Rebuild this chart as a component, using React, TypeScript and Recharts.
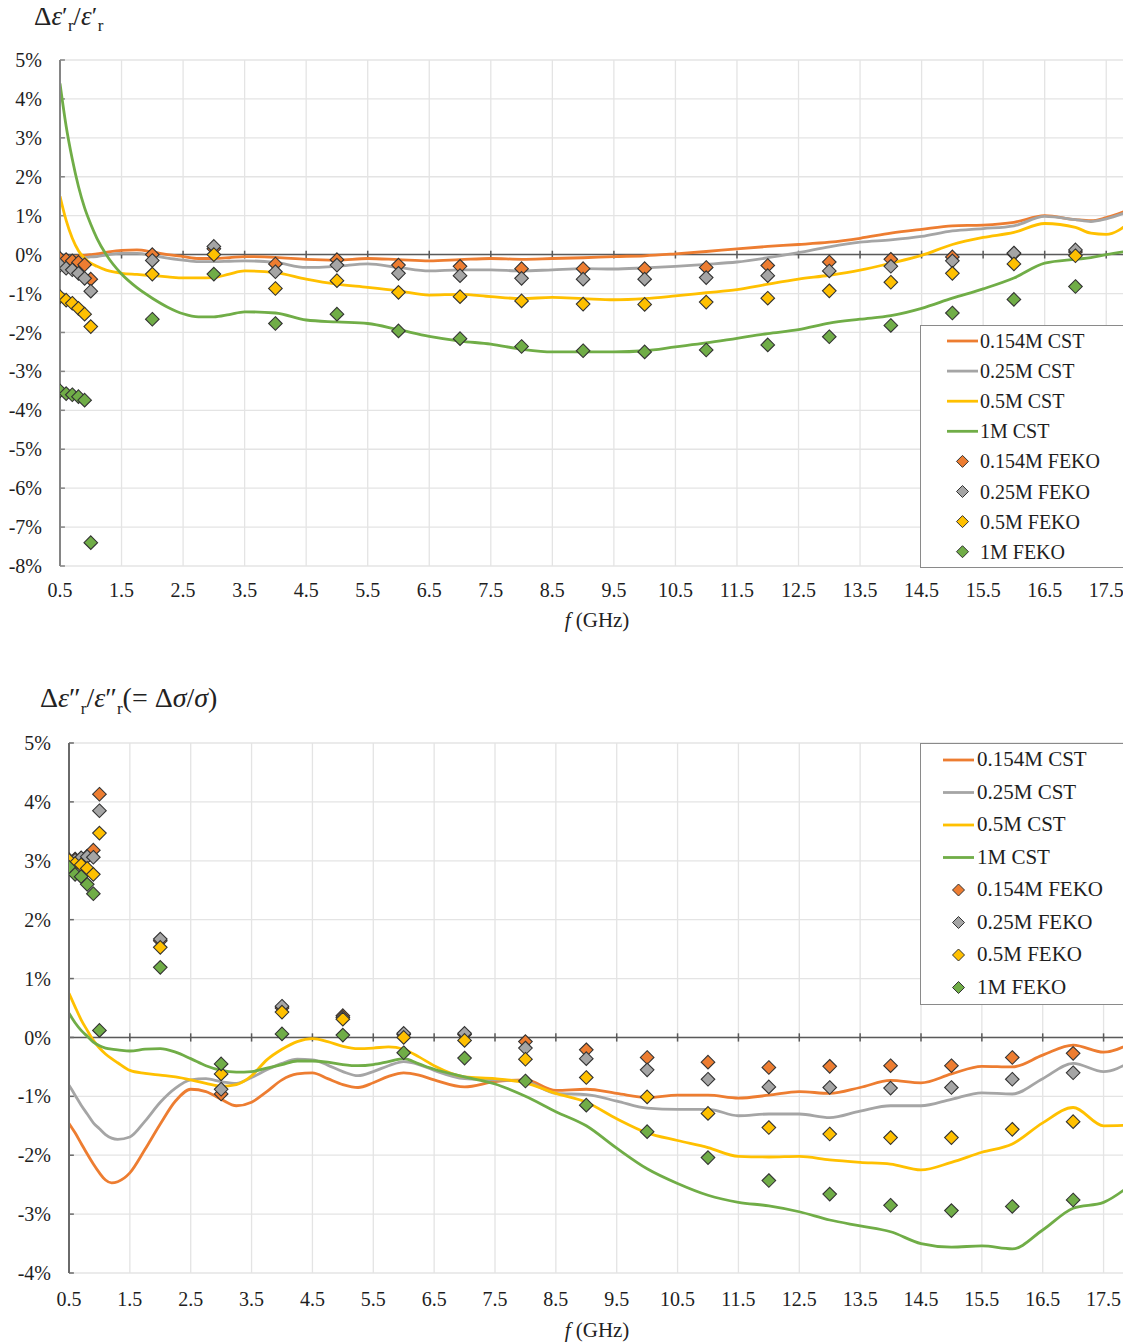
import React from 'react';
import { ComposedChart, Line, Scatter, XAxis, YAxis, CartesianGrid, ReferenceLine } from 'recharts';

const FONT = '"Liberation Serif", "Times New Roman", serif';

const seriesNames = ['0.154M', '0.25M', '0.5M', '1M'];
const seriesColors = ['#ED7D31', '#A5A5A5', '#FFC000', '#70AD47'];

const xTicks = [0.5, 1.5, 2.5, 3.5, 4.5, 5.5, 6.5, 7.5, 8.5, 9.5, 10.5, 11.5, 12.5, 13.5, 14.5, 15.5, 16.5, 17.5];
const topYTicks = [-8, -7, -6, -5, -4, -3, -2, -1, 0, 1, 2, 3, 4, 5];
const bottomYTicks = [-4, -3, -2, -1, 0, 1, 2, 3, 4, 5];

// ---------- Top chart: Δε'r/ε'r ----------
const topCstX = [0.5, 0.6, 0.7, 0.8, 0.9, 1.0, 1.1, 1.25, 1.5, 1.75, 2.0, 2.25, 2.5, 2.75, 3.0, 3.25, 3.5, 4.0, 4.5, 5.0, 5.5, 6.0, 6.5, 7.0, 7.5, 8.0, 8.5, 9.0, 9.5, 10.0, 10.5, 11.0, 11.5, 12.0, 12.5, 13.0, 13.5, 14.0, 14.5, 15.0, 15.5, 16.0, 16.5, 17.0, 17.25, 17.5, 17.9];
const topCst0154 = [-0.08, -0.07, -0.06, -0.04, -0.02, 0.0, 0.02, 0.06, 0.11, 0.12, 0.07, 0.0, -0.05, -0.1, -0.1, -0.08, -0.05, -0.07, -0.12, -0.14, -0.1, -0.13, -0.16, -0.13, -0.1, -0.12, -0.1, -0.08, -0.05, -0.03, 0.02, 0.08, 0.15, 0.21, 0.26, 0.32, 0.42, 0.55, 0.65, 0.74, 0.76, 0.83, 1.0, 0.9, 0.87, 0.95, 1.17];
const topCst025 = [-0.14, -0.13, -0.12, -0.1, -0.08, -0.06, -0.05, -0.01, 0.03, 0.03, -0.02, -0.09, -0.14, -0.18, -0.18, -0.17, -0.16, -0.2, -0.33, -0.3, -0.24, -0.33, -0.42, -0.39, -0.39, -0.42, -0.39, -0.36, -0.37, -0.34, -0.3, -0.25, -0.19, -0.08, 0.05, 0.2, 0.32, 0.38, 0.47, 0.61, 0.67, 0.74, 0.98, 0.9, 0.85, 0.92, 1.13];
const topCst05 = [1.5, 0.88, 0.42, 0.1, -0.09, -0.22, -0.3, -0.4, -0.48, -0.51, -0.54, -0.57, -0.6, -0.6, -0.59, -0.5, -0.42, -0.46, -0.63, -0.76, -0.84, -0.93, -1.04, -1.02, -1.08, -1.13, -1.1, -1.13, -1.16, -1.13, -1.06, -0.98, -0.9, -0.76, -0.63, -0.53, -0.4, -0.22, -0.02, 0.26, 0.44, 0.57, 0.8, 0.7, 0.55, 0.52, 0.85];
const topCst1 = [4.4, 3.3, 2.45, 1.75, 1.2, 0.78, 0.42, 0.0, -0.5, -0.85, -1.12, -1.35, -1.52, -1.6, -1.6, -1.54, -1.47, -1.5, -1.68, -1.73, -1.77, -1.93, -2.1, -2.22, -2.3, -2.43, -2.5, -2.5, -2.5, -2.47, -2.37, -2.27, -2.15, -2.03, -1.93, -1.76, -1.66, -1.57, -1.38, -1.12, -0.88, -0.6, -0.22, -0.12, -0.08, 0.0, 0.1];

const fekoX = [0.5, 0.6, 0.7, 0.8, 0.9, 1.0, 2, 3, 4, 5, 6, 7, 8, 9, 10, 11, 12, 13, 14, 15, 16, 17, 18];
const topFeko0154 = [-0.1, -0.13, -0.16, -0.2, -0.26, -0.63, 0.0, 0.15, -0.24, -0.13, -0.27, -0.3, -0.36, -0.36, -0.36, -0.33, -0.28, -0.19, -0.12, -0.06, 0.02, 0.07, null];
const topFeko025 = [-0.27, -0.35, -0.39, -0.48, -0.61, -0.94, -0.15, 0.21, -0.44, -0.27, -0.48, -0.54, -0.61, -0.63, -0.63, -0.59, -0.54, -0.42, -0.3, -0.16, 0.04, 0.12, -0.47];
const topFeko05 = [-1.08, -1.17, -1.25, -1.38, -1.53, -1.85, -0.5, 0.0, -0.87, -0.67, -0.97, -1.08, -1.19, -1.27, -1.28, -1.22, -1.12, -0.93, -0.71, -0.48, -0.24, -0.03, null];
const topFeko1 = [-3.5, -3.57, -3.6, -3.65, -3.74, -7.4, -1.66, -0.5, -1.77, -1.53, -1.96, -2.16, -2.36, -2.47, -2.5, -2.45, -2.32, -2.11, -1.82, -1.5, -1.15, -0.82, null];

// ---------- Bottom chart: Δε''r/ε''r ----------
const botCstX = [0.5, 0.6, 0.7, 0.8, 0.9, 1.0, 1.1, 1.2, 1.3, 1.5, 1.75, 2.0, 2.25, 2.5, 2.75, 3.0, 3.25, 3.5, 3.75, 4.0, 4.25, 4.5, 4.75, 5.0, 5.25, 5.5, 5.75, 6.0, 6.25, 6.5, 7.0, 7.5, 8.0, 8.5, 9.0, 9.5, 10.0, 10.5, 11.0, 11.5, 12.0, 12.5, 13.0, 13.5, 14.0, 14.5, 15.0, 15.5, 16.0, 16.5, 17.0, 17.5, 17.95];
const botCst0154 = [-1.46, -1.62, -1.8, -1.98, -2.15, -2.3, -2.42, -2.47, -2.45, -2.3, -1.9, -1.47, -1.08, -0.88, -0.92, -1.05, -1.16, -1.1, -0.92, -0.72, -0.62, -0.6, -0.7, -0.8, -0.85, -0.77, -0.66, -0.6, -0.64, -0.72, -0.84, -0.75, -0.72, -0.9, -0.88, -0.95, -1.02, -0.98, -0.98, -1.03, -0.98, -0.92, -0.95, -0.85, -0.73, -0.77, -0.62, -0.49, -0.5, -0.3, -0.13, -0.25, -0.1];
const botCst025 = [-0.81, -0.98, -1.15, -1.3, -1.45, -1.55, -1.65, -1.71, -1.73, -1.69, -1.42, -1.1, -0.86, -0.72, -0.7, -0.75, -0.78, -0.68, -0.55, -0.44, -0.37, -0.38, -0.47, -0.58, -0.65, -0.58, -0.48, -0.41, -0.46, -0.56, -0.7, -0.72, -0.75, -0.95, -0.97, -1.08, -1.2, -1.22, -1.22, -1.33, -1.3, -1.3, -1.36, -1.25, -1.16, -1.16, -1.05, -0.94, -0.96, -0.7, -0.44, -0.58, -0.41];
const botCst05 = [0.75, 0.52, 0.3, 0.12, -0.05, -0.18, -0.28, -0.36, -0.43, -0.56, -0.61, -0.64, -0.67, -0.72, -0.78, -0.83, -0.8, -0.65, -0.38, -0.2, -0.07, -0.02, -0.07, -0.15, -0.19, -0.18, -0.16, -0.2, -0.33, -0.48, -0.67, -0.7, -0.77, -0.95, -1.1, -1.38, -1.62, -1.75, -1.87, -2.02, -2.03, -2.02, -2.08, -2.12, -2.15, -2.25, -2.12, -1.95, -1.81, -1.45, -1.19, -1.5, -1.49];
const botCst1 = [0.41, 0.25, 0.12, 0.02, -0.08, -0.14, -0.18, -0.2, -0.21, -0.23, -0.2, -0.19, -0.25, -0.36, -0.48, -0.56, -0.59, -0.58, -0.52, -0.46, -0.4, -0.4, -0.42, -0.46, -0.48, -0.46, -0.41, -0.36, -0.45, -0.54, -0.67, -0.79, -1.0, -1.26, -1.5, -1.88, -2.23, -2.48, -2.68, -2.8, -2.86, -2.96, -3.1, -3.2, -3.3, -3.5, -3.56, -3.54, -3.59, -3.27, -2.9, -2.8, -2.5];

const botFeko0154 = [3.02, 3.03, 3.04, 3.08, 3.18, 4.13, 1.64, -0.96, 0.5, 0.37, 0.05, 0.05, -0.07, -0.21, -0.34, -0.42, -0.51, -0.49, -0.48, -0.48, -0.34, -0.27, -0.13];
const botFeko025 = [3.0, 3.01, 3.05, 3.07, 3.06, 3.85, 1.67, -0.88, 0.53, 0.34, 0.07, 0.07, -0.18, -0.36, -0.55, -0.71, -0.84, -0.85, -0.86, -0.85, -0.71, -0.6, -0.43];
const botFeko05 = [3.01, 2.95, 2.93, 2.87, 2.77, 3.47, 1.53, -0.62, 0.43, 0.31, 0.0, -0.05, -0.37, -0.68, -1.01, -1.29, -1.53, -1.64, -1.7, -1.7, -1.56, -1.43, -1.19];
const botFeko1 = [2.89, 2.77, 2.73, 2.6, 2.44, 0.12, 1.19, -0.45, 0.06, 0.04, -0.26, -0.35, -0.74, -1.15, -1.6, -2.04, -2.43, -2.66, -2.85, -2.94, -2.87, -2.76, -2.52];

function pairs(xs: number[], ys: (number | null)[]) {
  return xs.map((x, i) => ({ x, y: ys[i] })).filter((d) => d.y !== null && d.y !== undefined);
}

const diamond = (color: string, r: number) => (p: any) => {
  const { cx, cy } = p;
  if (cx == null || cy == null) return <g />;
  return (
    <path
      d={`M${cx},${cy - r}L${cx + r},${cy}L${cx},${cy + r}L${cx - r},${cy}Z`}
      fill={color}
      stroke="#333333"
      strokeWidth={1.1}
    />
  );
};

type PanelProps = {
  width: number;
  height: number;
  yAxisWidth: number;
  yDomain: [number, number];
  yTicks: number[];
  cst: { x: number; y: number | null }[][];
  feko: { x: number; y: number | null }[][];
  tickHalf: number;
  axisTickDx: number;
  xTickMargin: number;
  axisColor: string;
};

function Panel(props: PanelProps) {
  const { width, height, yAxisWidth, yDomain, yTicks, cst, feko, tickHalf, axisTickDx, xTickMargin, axisColor } = props;
  const tickStyle = { fill: '#1e1e1e', fontSize: 20, fontFamily: FONT };
  return (
    <ComposedChart width={width} height={height} margin={{ top: 60, right: 0, bottom: 0, left: 0 }}>
      <CartesianGrid stroke="#e4e4e4" strokeWidth={1.3} />
      <XAxis
        type="number"
        dataKey="x"
        domain={[0.5, 18]}
        ticks={xTicks}
        interval={0}
        allowDataOverflow
        axisLine={false}
        tickLine={false}
        tickMargin={xTickMargin}
        tick={tickStyle}
        height={40}
      />
      <YAxis
        type="number"
        domain={yDomain}
        ticks={yTicks}
        interval={0}
        allowDataOverflow
        width={yAxisWidth}
        axisLine={{ stroke: axisColor, strokeWidth: 2 }}
        tickLine={false}
        tickMargin={12}
        tick={tickStyle}
        tickFormatter={(v: number) => `${v}%`}
      />
      <ReferenceLine y={0} stroke="#5a5a5a" strokeWidth={1.5} />
      {xTicks.slice(1).map((t) => (
        <ReferenceLine
          key={'zt' + t}
          segment={[{ x: t, y: -tickHalf }, { x: t, y: tickHalf }]}
          stroke="#5a5a5a"
          strokeWidth={1.5}
        />
      ))}
      {yTicks.map((v) => (
        <ReferenceLine
          key={'yt' + v}
          segment={[{ x: 0.5, y: v }, { x: 0.5 + axisTickDx, y: v }]}
          stroke={axisColor}
          strokeWidth={1.5}
        />
      ))}
      {cst.map((d, i) => (
        <Line
          key={'cst' + i}
          data={d}
          dataKey="y"
          type="monotone"
          stroke={seriesColors[i]}
          strokeWidth={2.8}
          dot={false}
          activeDot={false}
          isAnimationActive={false}
        />
      ))}
      {feko.map((d, i) => (
        <Scatter
          key={'feko' + i}
          data={d}
          dataKey="y"
          fill={seriesColors[i]}
          shape={diamond(seriesColors[i], 6.8)}
          isAnimationActive={false}
        />
      ))}
    </ComposedChart>
  );
}

function LegendBox(props: { left: number; top: number; height: number; rowStart: number; rowGap: number; lineX: number; textX: number; fontSize: number }) {
  const { left, top, height, rowStart, rowGap, lineX, textX, fontSize } = props;
  const rows = [
    ...seriesNames.map((n, i) => ({ label: `${n} CST`, kind: 'line', color: seriesColors[i] })),
    ...seriesNames.map((n, i) => ({ label: `${n} FEKO`, kind: 'dot', color: seriesColors[i] })),
  ];
  return (
    <div
      style={{
        position: 'absolute',
        left,
        top,
        width: 240,
        height,
        border: '1px solid #8a8a8a',
        background: '#fff',
        fontFamily: FONT,
        fontSize,
        color: '#1e1e1e',
      }}
    >
      <svg width={240} height={height} style={{ position: 'absolute', left: 0, top: 0 }}>
        {rows.map((r, i) => {
          const cy = rowStart + i * rowGap;
          if (r.kind === 'line') {
            return <line key={i} x1={lineX} x2={lineX + 31} y1={cy} y2={cy} stroke={r.color} strokeWidth={2.8} />;
          }
          const cx = lineX + 15.5;
          const rr = 6;
          return (
            <path
              key={i}
              d={`M${cx},${cy - rr}L${cx + rr},${cy}L${cx},${cy + rr}L${cx - rr},${cy}Z`}
              fill={r.color}
              stroke="#333333"
              strokeWidth={1}
            />
          );
        })}
      </svg>
      {rows.map((r, i) => (
        <div
          key={'t' + i}
          style={{
            position: 'absolute',
            left: textX,
            top: rowStart + i * rowGap - fontSize * 0.6,
            lineHeight: `${fontSize * 1.2}px`,
            whiteSpace: 'nowrap',
          }}
        >
          {r.label}
        </div>
      ))}
    </div>
  );
}

export default function App() {
  const topCst = [topCst0154, topCst025, topCst05, topCst1].map((ys) => pairs(topCstX, ys));
  const topFeko = [topFeko0154, topFeko025, topFeko05, topFeko1].map((ys) => pairs(fekoX, ys));
  const botCst = [botCst0154, botCst025, botCst05, botCst1].map((ys) => pairs(botCstX, ys));
  const botFeko = [botFeko0154, botFeko025, botFeko05, botFeko1].map((ys) => pairs(fekoX, ys));

  const subStyle = { fontSize: 17 };

  return (
    <div
      style={{
        position: 'relative',
        width: 1131,
        height: 1344,
        overflow: 'hidden',
        marginLeft: -8,
        marginTop: -8,
        background: '#fff',
        fontFamily: FONT,
      }}
    >
      <div style={{ position: 'absolute', left: 34, top: 1, fontSize: 27, color: '#222', whiteSpace: 'nowrap' }}>
        Δ<i>ε</i>′<sub style={subStyle}>r</sub>/<i>ε</i>′<sub style={subStyle}>r</sub>
      </div>
      <div style={{ position: 'absolute', left: 0, top: 0 }}>
        <Panel
          width={1137}
          height={606}
          yAxisWidth={60}
          yDomain={[-8, 5]}
          yTicks={topYTicks}
          cst={topCst}
          feko={topFeko}
          tickHalf={0.1}
          axisTickDx={0.08}
          xTickMargin={11}
          axisColor="#858585"
        />
      </div>
      <LegendBox left={920} top={325} height={241} rowStart={15} rowGap={30.1} lineX={26} textX={59} fontSize={20} />
      <div style={{ position: 'absolute', left: 497, width: 200, top: 608, textAlign: 'center', fontSize: 21, color: '#222' }}>
        <i>f</i> (GHz)
      </div>

      <div style={{ position: 'absolute', left: 40, top: 682, fontSize: 28, color: '#222', whiteSpace: 'nowrap' }}>
        Δ<i>ε</i>″<sub style={subStyle}>r</sub>/<i>ε</i>″<sub style={subStyle}>r</sub>(= Δ<i>σ</i>/<i>σ</i>)
      </div>
      <div style={{ position: 'absolute', left: 0, top: 683 }}>
        <Panel
          width={1134}
          height={630}
          yAxisWidth={69}
          yDomain={[-4, 5]}
          yTicks={bottomYTicks}
          cst={botCst}
          feko={botFeko}
          tickHalf={0.07}
          axisTickDx={0.08}
          xTickMargin={13}
          axisColor="#6a6a6a"
        />
      </div>
      <LegendBox left={920} top={743} height={260} rowStart={16} rowGap={32.5} lineX={22} textX={56} fontSize={21} />
      <div style={{ position: 'absolute', left: 497, width: 200, top: 1318, textAlign: 'center', fontSize: 21, color: '#222' }}>
        <i>f</i> (GHz)
      </div>
    </div>
  );
}
